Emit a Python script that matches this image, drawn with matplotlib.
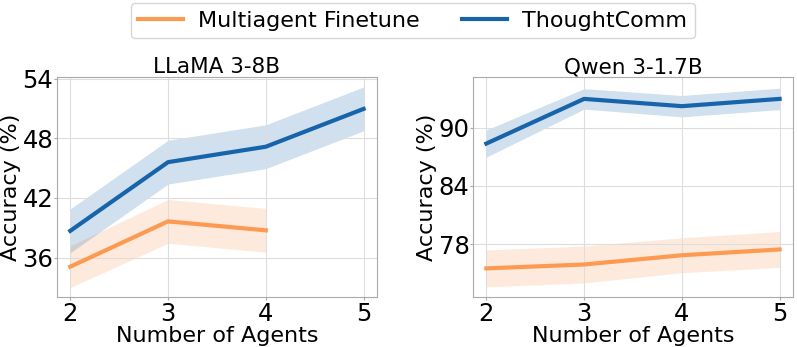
import matplotlib
matplotlib.use("Agg")
import matplotlib.pyplot as plt
import numpy as np

agents_llama = [2, 3, 4, 5]
llama_ft_agents = [2, 3, 4]
llama_ft_mean = [35.1, 39.65, 38.75]
llama_ft_std = [2.1, 2.2, 2.2]
llama_tc_mean = [38.7, 45.6, 47.15, 50.95]
llama_tc_std = [2.2, 2.2, 2.2, 2.2]

agents_qwen = [2, 3, 4, 5]
qwen_ft_mean = [75.5, 75.9, 76.85, 77.45]
qwen_ft_std = [1.9, 1.9, 1.8, 1.85]
qwen_tc_mean = [88.35, 92.95, 92.2, 92.95]
qwen_tc_std = [1.4, 1.05, 1.1, 1.1]

titles = ["LLaMA 3-8B", "Qwen 3-1.7B"]
yticks_llama = [36, 42, 48, 54]
yticks_qwen = [78, 84, 90]

c_ft = "#fd9a52"
c_tc = "#1764ab"

fig = plt.figure(figsize=(7.97, 3.47), dpi=100)
ax1 = fig.add_axes([0.0715, 0.144, 0.4015, 0.634])
ax2 = fig.add_axes([0.5935, 0.144, 0.4015, 0.634])

def draw(ax, xf, fm, fs, xt, tm, ts, yt, ylim, title):
    fm, fs, tm, ts = map(np.array, (fm, fs, tm, ts))
    ax.fill_between(xf, fm - fs, fm + fs, color=c_ft, alpha=0.2, lw=0)
    ax.plot(xf, fm, color=c_ft, lw=3, label="Multiagent Finetune")
    ax.fill_between(xt, tm - ts, tm + ts, color=c_tc, alpha=0.2, lw=0)
    ax.plot(xt, tm, color=c_tc, lw=3, label="ThoughtComm")
    ax.set_xlim(1.864, 5.137)
    ax.set_ylim(*ylim)
    ax.set_xticks([2, 3, 4, 5])
    ax.set_yticks(yt)
    ax.tick_params(axis="x", labelsize=17.5, length=2.5, pad=1.3, color="#aaaaaa")
    ax.tick_params(axis="y", labelsize=17.5, length=2, pad=0.6, color="#aaaaaa")
    ax.set_xlabel("Number of Agents", fontsize=16, labelpad=0)
    ax.set_ylabel("Accuracy (%)", fontsize=16, labelpad=0.8)
    ax.set_title(title, fontsize=15.5, pad=1)
    ax.grid(True, color="#dddddd", lw=0.8)
    for s in ax.spines.values():
        s.set_color("#aaaaaa")

draw(ax1, llama_ft_agents, llama_ft_mean, llama_ft_std, agents_llama,
     llama_tc_mean, llama_tc_std, yticks_llama, (32.05, 54.15), titles[0])
draw(ax2, agents_qwen, qwen_ft_mean, qwen_ft_std, agents_qwen,
     qwen_tc_mean, qwen_tc_std, yticks_qwen, (72.55, 95.2), titles[1])

h, l = ax1.get_legend_handles_labels()
fig.legend(h, l, loc="upper center", bbox_to_anchor=(0.518, 0.992), ncol=2,
           fontsize=16, frameon=True, handlelength=2.0, handletextpad=0.7,
           columnspacing=1.9, borderaxespad=0, borderpad=0.35)

fig.savefig("out.png", dpi=100)
